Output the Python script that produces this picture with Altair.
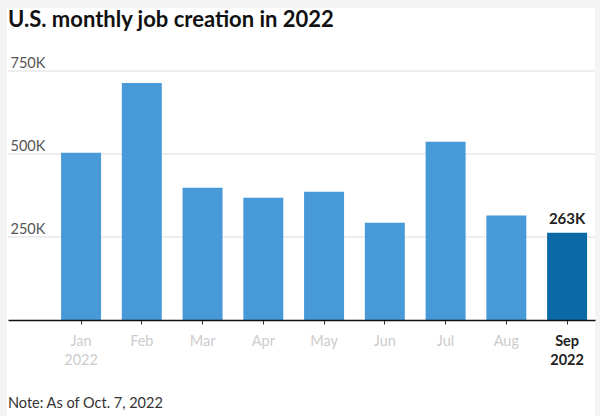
import altair as alt
import pandas as pd

months = ["Jan", "Feb", "Mar", "Apr", "May", "Jun", "Jul", "Aug", "Sep"]
jobs = [504000, 714000, 398000, 368000, 386000, 293000, 537000, 315000, 263000]
highlight = [False] * 8 + [True]
grid_values = [250000, 500000, 750000]
title_text = "U.S. monthly job creation in 2022"
note_text = "Note: As of Oct. 7, 2022"

FONT = "Lato"

df = pd.DataFrame({"month": months, "jobs": jobs, "hl": highlight})
grid_df = pd.DataFrame({"v": grid_values})
one = pd.DataFrame({"note": [note_text], "title": [title_text]})

W, H = 587, 249

card = alt.Chart(one).mark_rect(color="white").encode(
    x=alt.value(-1), x2=alt.value(W), y=alt.value(-63), y2=alt.value(H + 96)
)

grid = alt.Chart(grid_df).mark_rule(color="#dddddd", strokeWidth=1).encode(
    y=alt.Y("v:Q", scale=alt.Scale(domain=[0, 750000])),
    x=alt.value(0), x2=alt.value(W)
)

xscale = alt.Scale(domain=months, paddingInner=0.342, paddingOuter=0.502, align=0.87)

bars = alt.Chart(df).mark_bar().encode(
    x=alt.X("month:N", sort=months, scale=xscale,
            axis=alt.Axis(title=None, labelAngle=0, labelFontSize=14.5, labelFont=FONT,
                          labelPadding=10, tickSize=4, tickColor="#333333", tickWidth=1,
                          domainColor="#111111", domainWidth=1.5, labelLineHeight=19,
                          labelExpr="(datum.value == 'Jan' || datum.value == 'Sep') ? [datum.value, '2022'] : datum.value",
                          labelColor=alt.condition("datum.value == 'Sep'", alt.value("#222222"), alt.value("#cccccc")),
                          labelFontWeight=alt.condition("datum.value == 'Sep'", alt.value("bold"), alt.value("normal")),
                          zindex=1)),
    y=alt.Y("jobs:Q", scale=alt.Scale(domain=[0, 750000]),
            axis=alt.Axis(title=None, values=grid_values, grid=False, domain=False, ticks=False,
                          tickSize=0, labelAlign="left", labelBaseline="alphabetic", labelPadding=-2,
                          labelOffset=-4, labelFontSize=14.5, labelFont=FONT, labelColor="#555555",
                          labelExpr="datum.value / 1000 + 'K'", zindex=1)),
    color=alt.condition("datum.hl", alt.value("#0b6aa5"), alt.value("#4799d8")),
)

label = alt.Chart(df).transform_filter("datum.hl").transform_calculate(
    lbl="datum.jobs / 1000 + 'K'"
).mark_text(
    font=FONT, fontSize=15, fontWeight="bold", color="#222222", baseline="alphabetic", dy=-9
).encode(
    x=alt.X("month:N", sort=months, scale=xscale),
    y=alt.Y("jobs:Q", scale=alt.Scale(domain=[0, 750000])),
    text="lbl:N",
)

title = alt.Chart(one).mark_text(
    font=FONT, fontSize=22, fontWeight="bold", color="#111111", align="left", baseline="alphabetic"
).encode(x=alt.value(0), y=alt.value(-44), text="title:N")

note = alt.Chart(one).mark_text(
    font=FONT, fontSize=14.5, color="#333333", align="left", baseline="alphabetic"
).encode(x=alt.value(0), y=alt.value(H + 88), text="note:N")

chart = alt.layer(card, grid, bars, label, title, note).properties(
    width=W, height=H,
    autosize=alt.AutoSizeParams(type="none"),
    padding={"left": 8, "top": 71, "right": 5, "bottom": 96},
    background="#f4f4f4",
).configure_view(stroke=None)

chart.save("out.html", embed_options={"renderer": "svg", "actions": False})
